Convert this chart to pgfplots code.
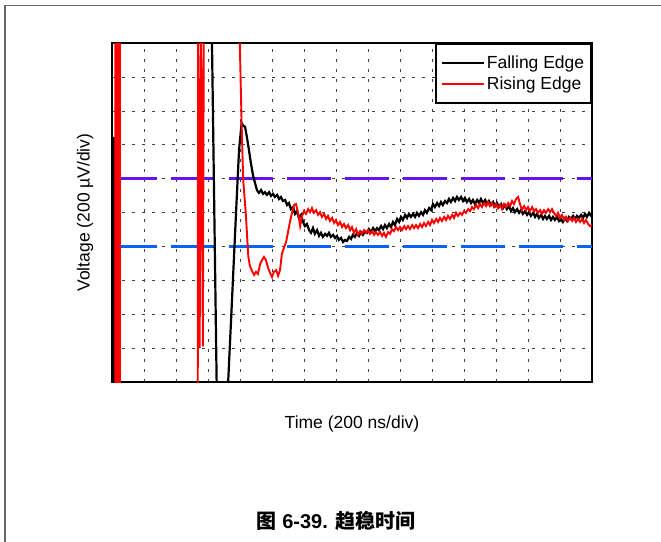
\documentclass[border=0pt]{standalone}
\usepackage{pgfplots}
\pgfplotsset{compat=1.18}
\usepackage{fontspec}
\setmainfont{Liberation Sans}
\newfontfamily\cjk{Noto Sans CJK SC}
\definecolor{refpurple}{RGB}{100,20,240}
\definecolor{refblue}{RGB}{10,95,255}
\definecolor{tired}{RGB}{255,0,0}
\begin{document}
\begin{tikzpicture}
\useasboundingbox (0,0) rectangle (661bp,-542bp);
\draw[line width=1.6bp, black!60] (5bp,-542bp) -- (5bp,-5.5bp) -- (661bp,-5.5bp);
\begin{axis}[
  at={(112bp,-382bp)}, anchor=south west,
  scale only axis, width=480bp, height=339bp,
  xmin=0, xmax=15, ymin=0, ymax=10,
  xtick={0,1,...,15}, ytick={0,1,...,10},
  xticklabels={}, yticklabels={},
  major tick length=0pt,
  grid=major,
  major grid style={black!75, line width=0.6bp, dash pattern=on 3bp off 7bp},
  axis line style={line width=1.8bp},
  unbounded coords=jump,
  font=\fontsize{17.5bp}{21bp}\selectfont,
  xlabel={Time (200 ns/div)},
  ylabel={Voltage (200 µV/div)},
  x label style={at={(axis description cs:0.5,-0.124)}, anchor=center},
  y label style={at={(axis description cs:-0.056,0.5)}, anchor=center},
  legend style={at={(1,1)}, anchor=north east, draw=black, line width=1.6bp,
    font=\fontsize{17.5bp}{20bp}\selectfont, inner xsep=5bp, inner ysep=10bp,
    row sep=3bp},
  legend cell align=left,
  legend image code/.code={\draw[#1] (0bp,0bp) -- (35bp,0bp); \path (0bp,0bp) -- (42bp,0bp);},
]
% reference limit lines
\addplot[forget plot, refpurple, line width=2.6bp, dash pattern=on 44bp off 14bp] coordinates {(0.03,6) (15,6)};
\addplot[forget plot, refblue, line width=2.6bp, dash pattern=on 44bp off 14bp] coordinates {(0.03,4) (15,4)};
% Falling edge
\addplot[black, line width=2.2bp] coordinates {
(0.02,-1) (0.02,7.2) (0.06,7.2) (0.06,-1) (0.1,-1) (0.1,7.0) (0.12,-1)
(0.5,nan)
(3.11,11) (3.27,0) (3.32,-1) (3.55,-1) (3.63,0) (3.75,2.42) (3.88,5.07) (3.97,6.84) (4.05,7.64)
(4.09,7.58) (4.16,7.52) (4.22,7.20) (4.28,6.84) (4.34,6.46) (4.41,6.08) (4.47,5.87) (4.53,5.66) (4.59,5.58)
(4.66,5.66) (4.72,5.55) (4.78,5.60) (4.84,5.52) (4.91,5.60) (4.97,5.49) (5.03,5.55) (5.09,5.46)
(5.16,5.52) (5.22,5.40) (5.28,5.46) (5.34,5.34) (5.41,5.37) (5.47,5.22) (5.53,5.28) (5.59,5.10)
(5.66,5.16) (5.72,4.96) (5.78,5.04) (5.84,4.84) (5.91,4.93) (5.97,4.72) (6.03,4.60) (6.09,4.66)
(6.16,4.48) (6.22,4.40) (6.28,4.54) (6.34,4.37) (6.41,4.48) (6.47,4.31) (6.53,4.40) (6.59,4.28)
(6.66,4.37) (6.72,4.31) (6.78,4.40) (6.84,4.28) (6.91,4.34) (6.97,4.25) (7.03,4.31) (7.09,4.19)
(7.16,4.25) (7.22,4.13) (7.28,4.19) (7.34,4.16) (7.41,4.28) (7.47,4.22) (7.53,4.34) (7.59,4.28)
(7.66,4.40) (7.72,4.31) (7.78,4.42) (7.84,4.34) (7.91,4.45) (7.97,4.40) (8.03,4.51) (8.09,4.42)
(8.16,4.54) (8.22,4.45) (8.28,4.54) (8.34,4.48) (8.41,4.60) (8.47,4.51) (8.53,4.63) (8.59,4.54)
(8.66,4.66) (8.72,4.57) (8.78,4.72) (8.84,4.63) (8.91,4.81) (8.97,4.72) (9.03,4.87) (9.09,4.78)
(9.16,4.93) (9.22,4.84) (9.28,4.96) (9.34,4.87) (9.41,4.96) (9.47,4.87) (9.53,4.99) (9.59,4.90)
(9.66,5.01) (9.72,4.93) (9.78,5.07) (9.84,4.99) (9.91,5.13) (9.97,5.07) (10.03,5.25) (10.09,5.16)
(10.16,5.28) (10.22,5.19) (10.28,5.31) (10.34,5.22) (10.41,5.34) (10.47,5.28) (10.53,5.40) (10.59,5.31)
(10.66,5.43) (10.72,5.34) (10.78,5.46) (10.84,5.37) (10.91,5.46) (10.97,5.34) (11.03,5.43) (11.09,5.31)
(11.16,5.40) (11.22,5.28) (11.28,5.37) (11.34,5.25) (11.41,5.37) (11.47,5.28) (11.53,5.40) (11.59,5.28)
(11.66,5.37) (11.72,5.25) (11.78,5.34) (11.84,5.22) (11.91,5.31) (11.97,5.19) (12.03,5.28) (12.09,5.16)
(12.16,5.25) (12.22,5.13) (12.28,5.22) (12.34,5.10) (12.41,5.19) (12.47,5.04) (12.53,5.13) (12.59,5.01)
(12.66,5.10) (12.72,4.99) (12.78,5.07) (12.84,4.96) (12.91,5.04) (12.97,4.93) (13.03,5.01) (13.09,4.90)
(13.16,4.99) (13.22,4.87) (13.28,4.96) (13.34,4.84) (13.41,4.93) (13.47,4.81) (13.53,4.90) (13.59,4.81)
(13.66,4.90) (13.72,4.78) (13.78,4.87) (13.84,4.78) (13.91,4.87) (13.97,4.75) (14.03,4.81) (14.09,4.72)
(14.16,4.84) (14.22,4.75) (14.28,4.87) (14.34,4.81) (14.41,4.90) (14.47,4.81) (14.53,4.90) (14.59,4.84)
(14.66,4.93) (14.72,4.84) (14.78,4.96) (14.84,4.87) (14.91,4.99) (14.97,4.90) (15.0,4.93)
};
\addlegendentry{Falling Edge}
% Rising edge
\addplot[tired, line width=1.9bp] coordinates {
(0.1,-1) (0.1,11) (0.15,11) (0.15,-1) (0.2,-1) (0.2,11) (0.25,11) (0.25,-1)
(1,nan)
(2.68,-1) (2.69,11) (2.74,1.0) (2.78,11) (2.84,1.05) (2.87,11)
(3.5,nan)
(3.97,11) (4.05,7.63) (4.10,5.96) (4.18,4.98) (4.26,3.70) (4.31,3.42) (4.38,3.27) (4.44,3.16)
(4.50,3.25) (4.56,3.19) (4.63,3.48) (4.69,3.60) (4.75,3.69) (4.81,3.60) (4.88,3.36) (4.94,3.22)
(5.00,3.10) (5.06,3.25) (5.13,3.30) (5.19,3.13) (5.25,3.30) (5.31,3.78) (5.38,3.98) (5.44,4.13)
(5.50,4.42) (5.56,4.72) (5.63,5.01) (5.69,5.22) (5.75,5.25) (5.81,5.01) (5.88,4.60) (5.94,4.90)
(6.00,5.04) (6.06,4.96) (6.13,5.10) (6.19,5.01) (6.25,5.13) (6.31,4.99) (6.38,5.07) (6.44,4.93)
(6.50,5.01) (6.56,4.87) (6.63,4.96) (6.69,4.81) (6.75,4.90) (6.81,4.75) (6.88,4.84) (6.94,4.69)
(7.00,4.78) (7.06,4.63) (7.13,4.72) (7.19,4.57) (7.25,4.66) (7.31,4.54) (7.38,4.63) (7.44,4.48)
(7.50,4.57) (7.56,4.40) (7.63,4.51) (7.69,4.34) (7.75,4.45) (7.81,4.37) (7.88,4.48) (7.94,4.40)
(8.00,4.48) (8.06,4.37) (8.13,4.45) (8.19,4.34) (8.25,4.42) (8.31,4.34) (8.38,4.42) (8.44,4.31)
(8.50,4.40) (8.56,4.28) (8.63,4.42) (8.69,4.37) (8.75,4.51) (8.81,4.45) (8.88,4.57) (8.94,4.48)
(9.00,4.57) (9.06,4.48) (9.13,4.60) (9.19,4.51) (9.25,4.60) (9.31,4.51) (9.38,4.63) (9.44,4.54)
(9.50,4.63) (9.56,4.54) (9.63,4.66) (9.69,4.57) (9.75,4.69) (9.81,4.60) (9.88,4.72) (9.94,4.63)
(10.00,4.78) (10.06,4.69) (10.13,4.81) (10.19,4.72) (10.25,4.84) (10.31,4.75) (10.38,4.87) (10.44,4.78)
(10.50,4.90) (10.56,4.81) (10.63,4.93) (10.69,4.84) (10.75,4.99) (10.81,4.90) (10.88,4.99) (10.94,4.93)
(11.00,5.04) (11.06,4.99) (11.13,5.10) (11.19,5.04) (11.25,5.16) (11.31,5.10) (11.38,5.22) (11.44,5.13)
(11.50,5.25) (11.56,5.16) (11.63,5.28) (11.69,5.19) (11.75,5.31) (11.81,5.19) (11.88,5.28) (11.94,5.16)
(12.00,5.25) (12.06,5.13) (12.13,5.22) (12.19,5.10) (12.25,5.25) (12.31,5.16) (12.38,5.28) (12.44,5.19)
(12.50,5.34) (12.56,5.25) (12.63,5.40) (12.69,5.46) (12.75,5.25) (12.81,5.07) (12.88,5.19) (12.94,5.07)
(13.00,5.16) (13.06,5.04) (13.13,5.16) (13.19,5.04) (13.25,5.10) (13.31,4.99) (13.38,5.07) (13.44,4.96)
(13.50,5.07) (13.56,4.99) (13.63,5.10) (13.69,5.01) (13.75,5.10) (13.81,4.99) (13.88,4.90) (13.94,4.99)
(14.00,4.84) (14.06,4.93) (14.13,4.78) (14.19,4.87) (14.25,4.75) (14.31,4.84) (14.38,4.75) (14.44,4.84)
(14.50,4.72) (14.56,4.81) (14.63,4.72) (14.69,4.81) (14.75,4.69) (14.81,4.78) (14.88,4.66) (14.94,4.60)
(15.00,4.63)
};
\addlegendentry{Rising Edge}
\end{axis}
\node[font=\fontsize{20bp}{24bp}\selectfont\bfseries] at (336bp,-521bp) {{\cjk\bfseries 图} 6-39. {\cjk\bfseries 趋稳时间}};
\end{tikzpicture}
\end{document}
